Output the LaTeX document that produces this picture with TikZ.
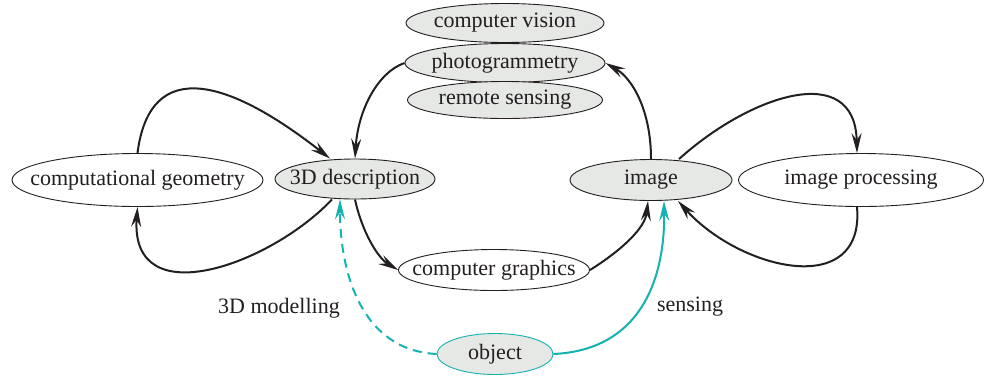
\documentclass[tikz,border=0pt]{standalone}
\usepackage{fontspec}
\setmainfont{Liberation Serif}
\usetikzlibrary{shapes.geometric,arrows.meta}
\definecolor{fillg}{HTML}{E6E8E6}
\definecolor{teal2}{HTML}{14B2B0}
\definecolor{ink}{HTML}{231F20}
\tikzset{
  txt/.style={text=ink, font=\fontsize{22}{25}\selectfont, inner sep=0pt},
  ell/.style={ellipse, draw=ink, line width=0.9pt, inner sep=0pt},
  gray/.style={ell, fill=fillg},
  white/.style={ell, fill=white},
  arr/.style={draw=ink, line width=2pt, -{Stealth[length=20pt,width=10pt,inset=7pt]}},
  carr/.style={draw=teal2, line width=2pt, -{Stealth[length=20pt,width=10pt,inset=7pt]}},
  lbl/.style={txt}
}
\begin{document}
\begin{tikzpicture}[x=1pt,y=-1pt]
\useasboundingbox (0,0) rectangle (984,376);
\node[gray, minimum width=198pt, minimum height=39pt, label={[txt]center:computer vision}] (cv) at (505,23) {};
\node[gray, minimum width=200pt, minimum height=39pt, label={[txt]center:photogrammetry}] (ph) at (505,63) {};
\node[gray, minimum width=195pt, minimum height=37pt, label={[txt]center:remote sensing}] (rs) at (505,100) {};
\node[white, minimum width=251pt, minimum height=53pt, label={[txt]center:computational geometry}] (cg) at (137.5,180) {};
\node[gray, minimum width=160pt, minimum height=40pt, label={[txt]center:3D description}] (dd) at (355,179) {};
\node[gray, minimum width=162pt, minimum height=41pt, label={[txt]center:image}] (im) at (651,180) {};
\node[white, minimum width=245pt, minimum height=53pt, label={[txt]center:image processing}] (ip) at (861,180) {};
\node[white, minimum width=191pt, minimum height=41pt, label={[txt]center:computer graphics}] (gr) at (494,270) {};
\node[ell, draw=teal2, fill=fillg, minimum width=116pt, minimum height=41pt, label={[txt]center:object}] (ob) at (495,354) {};
\node[lbl] (l3d) at (279,308) {3D modelling};
\node[lbl] (ls) at (690,307) {sensing};

\draw[arr] (ph.west) .. controls (378,72) and (358,110) .. (dd.north);
\draw[arr] (im.north) .. controls (651,110) and (632,78) .. (ph.east);
\draw[arr] (cg.north) .. controls (150,55) and (230,80) .. ([xshift=-25pt]dd.north);
\draw[arr] ([xshift=-23pt]dd.south) .. controls (270,265) and (130,315) .. (cg.south);
\draw[arr] (dd.south) .. controls (362,232) and (378,258) .. (gr.west);
\draw[arr] (gr.east) .. controls (622,250) and (645,228) .. ([xshift=-3pt]im.south);
\draw[arr] ([xshift=28pt]im.north) .. controls (750,95) and (855,60) .. ([xshift=-4pt]ip.north);
\draw[arr] ([xshift=-4pt]ip.south) .. controls (865,300) and (740,270) .. ([xshift=27pt]im.south);
\draw[carr, dashed, dash pattern=on 9pt off 6pt] (ob.west) .. controls (360,350) and (340,270) .. ([xshift=-15pt]dd.south);
\draw[carr] (ob.east) .. controls (640,350) and (665,280) .. ([xshift=13pt]im.south);
\end{tikzpicture}
\end{document}
